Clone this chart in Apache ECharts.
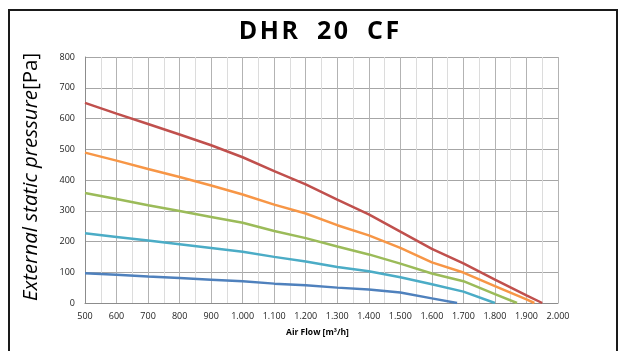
<!DOCTYPE html>
<html>
<head>
<meta charset="utf-8">
<script src="https://cdn.jsdelivr.net/npm/echarts@6/dist/echarts.min.js"></script>
<style>html,body{margin:0;padding:0;background:#fff;}#c{width:624px;height:351px;}</style>
</head>
<body>
<div id="c"></div>
<script>
const chartTitle = "D\u200AH\u200AR\u2002 2\u200A0\u2002 C\u200AF";
const xAxisTitle = "Air Flow [m³/h]";
const xMin = 500, xMax = 2000, xStep = 100;
const yMin = 0, yMax = 800, yStep = 100;

const flowRed    = [500, 600, 700, 800, 900, 1000, 1100, 1200, 1300, 1400, 1500, 1600, 1700, 1800, 1900, 1950];
const presRed    = [651, 616, 582, 548, 513, 474, 429, 386, 336, 288, 232, 176, 129, 76, 25, 0];
const flowOrange = [500, 600, 700, 800, 900, 1000, 1100, 1200, 1300, 1400, 1500, 1600, 1700, 1800, 1900, 1925];
const presOrange = [489, 463, 436, 410, 382, 353, 320, 291, 253, 220, 179, 132, 99, 55, 12, 0];
const flowGreen  = [500, 600, 700, 800, 900, 1000, 1100, 1200, 1300, 1400, 1500, 1600, 1700, 1800, 1870];
const presGreen  = [358, 338, 318, 299, 280, 261, 234, 211, 184, 158, 128, 96, 71, 29, 0];
const flowCyan   = [500, 600, 700, 800, 900, 1000, 1100, 1200, 1300, 1400, 1500, 1600, 1700, 1800];
const presCyan   = [227, 215, 203, 191, 179, 167, 150, 135, 117, 103, 84, 61, 37, 0];
const flowBlue   = [500, 600, 700, 800, 900, 1000, 1100, 1200, 1300, 1400, 1500, 1600, 1680];
const presBlue   = [97, 92, 86, 81, 76, 71, 63, 58, 50, 44, 34, 15, 0];

function pairs(xs, ys) { return xs.map((x, i) => [x, ys[i]]); }
function fmt(v) {
  if (v >= 1000) return Math.floor(v / 1000) + '.' + String(v % 1000).padStart(3, '0');
  return String(v);
}

const seriesDefs = [
  { d: pairs(flowBlue, presBlue), c: '#4F81BD' },
  { d: pairs(flowCyan, presCyan), c: '#4BACC6' },
  { d: pairs(flowGreen, presGreen), c: '#9BBB59' },
  { d: pairs(flowOrange, presOrange), c: '#F79646' },
  { d: pairs(flowRed, presRed), c: '#C0504D' }
];

const chart = echarts.init(document.getElementById('c'), null, { renderer: 'canvas' });
chart.setOption({
  backgroundColor: '#ffffff',
  animation: false,
  title: {
    text: chartTitle,
    left: 314, top: 14, textAlign: 'center',
    textStyle: { fontFamily: 'Open Sans', fontWeight: 'bold', fontSize: 25, color: '#000' }
  },
  graphic: [{
    type: 'rect', shape: { x: 9, y: 10, width: 608, height: 360 },
    style: { fill: 'none', stroke: '#1a1a1a', lineWidth: 2 }, silent: true
  }],
  grid: { left: 85, right: 66, top: 57, bottom: 48 },
  xAxis: {
    type: 'value', min: xMin, max: xMax, interval: xStep,
    name: xAxisTitle, nameLocation: 'middle', nameGap: 25,
    nameTextStyle: { fontFamily: 'Open Sans', fontWeight: 'bold', fontSize: 8.5, color: '#000', padding: [0, 0, 0, -8] },
    axisLine: { show: true, lineStyle: { color: '#8c8c8c', width: 1 } },
    axisTick: { show: false },
    axisLabel: { formatter: fmt, fontFamily: 'Open Sans', fontSize: 9, color: '#222', margin: 9 },
    splitLine: { show: true, lineStyle: { color: '#b3b3b3', width: 1 } },
    minorTick: { show: false, splitNumber: 2 },
    minorSplitLine: { show: true, lineStyle: { color: '#dcdcdc', width: 1 } }
  },
  yAxis: {
    type: 'value', min: yMin, max: yMax, interval: yStep,
    name: '{i|External static pressure}{n|[Pa]}',
    nameLocation: 'middle', nameRotate: 90, nameGap: 43,
    nameTextStyle: {
      padding: [0, 0, 0, 6],
      rich: {
        i: { fontFamily: 'Open Sans', fontStyle: 'italic', fontSize: 20.5, color: '#000' },
        n: { fontFamily: 'Open Sans', fontSize: 20.5, color: '#000' }
      }
    },
    axisLine: { show: true, lineStyle: { color: '#8c8c8c', width: 1 } },
    axisTick: { show: false },
    axisLabel: { fontFamily: 'Open Sans', fontSize: 9, color: '#222', margin: 10 },
    splitLine: { show: true, lineStyle: { color: '#a6a6a6', width: 1 } }
  },
  series: seriesDefs.map(s => ({
    type: 'line', data: s.d, showSymbol: false, symbol: 'none',
    lineStyle: { color: s.c, width: 2.5 }, itemStyle: { color: s.c }
  }))
});
</script>
</body>
</html>
